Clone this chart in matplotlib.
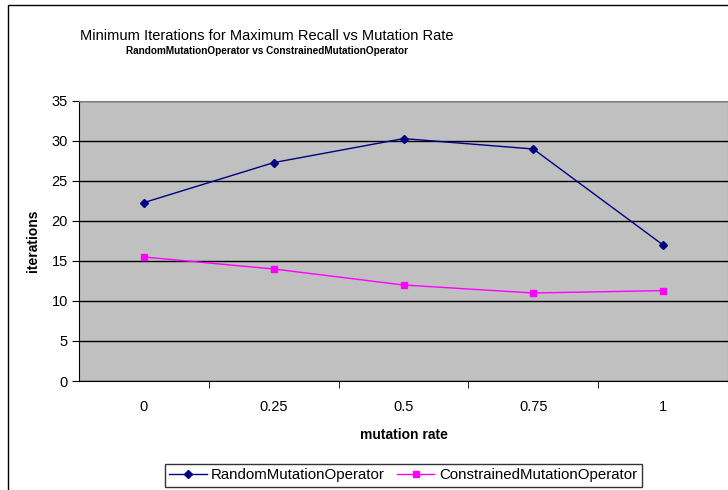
import matplotlib.pyplot as plt
import numpy as np

plt.rcParams['font.family'] = ['Liberation Sans', 'DejaVu Sans']

rates = ["0", "0.25", "0.5", "0.75", "1"]
random_op = [22.3, 27.3, 30.3, 29.0, 17.0]
constrained_op = [15.5, 14.0, 12.0, 11.0, 11.3]

fig = plt.figure(figsize=(7.28, 4.90), dpi=100)
ax = fig.add_axes([79 / 728, 109 / 490, 649 / 728, 280 / 490])

# outer chart border (right and bottom sides run off the picture)
fig.patches.append(plt.Rectangle((8 / 728, -0.05), 1.0, 1.05 - 5 / 490,
                                 transform=fig.transFigure, fill=False,
                                 edgecolor='k', lw=1.0, zorder=0))

x = np.arange(len(rates))
ax.set_facecolor('#c0c0c0')
ax.plot(x, random_op, c='#000080', lw=1.0, marker='D', ms=4.5,
        label='RandomMutationOperator', zorder=3)
ax.plot(x, constrained_op, c='#ff00ff', lw=1.0, marker='s', ms=5,
        label='ConstrainedMutationOperator', zorder=3)

ax.set_xlim(-0.5, len(rates) - 0.5)
ax.set_ylim(0, 35)
ax.set_yticks(np.arange(0, 36, 5))
ax.set_xticks(x)
ax.set_xticklabels(rates)
ax.set_xticks(x[:-1] + 0.5, minor=True)
ax.tick_params(axis='x', which='major', length=0, pad=14, labelsize=10.5)
ax.tick_params(axis='x', which='minor', length=5, direction='out')
ax.tick_params(axis='y', length=5, direction='out', labelsize=10.5, pad=3)
ax.yaxis.grid(True, color='k', lw=1.0)
ax.set_axisbelow(True)

for side in ('top', 'right'):
    ax.spines[side].set_color('#808080')
for side in ('left', 'bottom'):
    ax.spines[side].set_color('k')

ax.set_xlabel("mutation rate", fontweight='bold', fontsize=10, labelpad=10)
ax.set_ylabel("iterations", fontweight='bold', fontsize=10, labelpad=8)

fig.text(267 / 728, 1 - 36 / 490,
         "Minimum Iterations for Maximum Recall vs Mutation Rate",
         ha='center', va='center', fontsize=10.5)
fig.text(267 / 728, 1 - 51 / 490,
         "RandomMutationOperator vs ConstrainedMutationOperator",
         ha='center', va='center', fontsize=7.2, fontweight='bold')

leg = fig.legend(loc='center', bbox_to_anchor=(403 / 728, 1 - 475 / 490),
                 ncol=2, frameon=True, fancybox=False, fontsize=10.8,
                 handlelength=2.5, columnspacing=0.8, handletextpad=0.3,
                 borderpad=0.3)
leg.get_frame().set_edgecolor('k')
leg.get_frame().set_linewidth(1.0)

fig.savefig("out.png", dpi=100)
